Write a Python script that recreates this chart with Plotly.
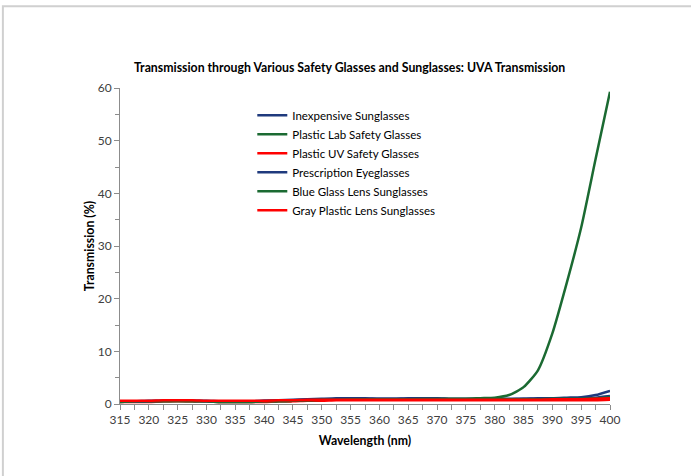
import plotly.graph_objects as go

wavelength = [315, 317.5, 320, 322.5, 325, 327.5, 330, 332.5, 335, 337.5,
              340, 342.5, 345, 347.5, 350, 352.5, 355, 357.5, 360, 362.5,
              365, 367.5, 370, 372.5, 375, 377.5, 380, 382.5, 385, 387.5,
              390, 392.5, 395, 397.5, 400]

inexpensive = [0.5, 0.5, 0.6, 0.6, 0.7, 0.6, 0.6, 0.5, 0.5, 0.5,
               0.6, 0.7, 0.8, 0.9, 1.0, 1.1, 1.1, 1.1, 1.0, 1.0,
               1.1, 1.1, 1.1, 1.0, 1.0, 1.0, 1.0, 1.0, 1.0, 1.1,
               1.1, 1.2, 1.3, 1.7, 2.5]
plastic_lab = [0.4, 0.5, 0.5, 0.5, 0.6, 0.5, 0.5, 0.4, 0.4, 0.4,
               0.5, 0.5, 0.6, 0.7, 0.8, 0.9, 0.9, 0.9, 0.9, 0.9,
               0.9, 1.0, 1.0, 1.0, 1.0, 1.1, 1.2, 1.7, 3.2, 6.4,
               13.4, 23.0, 33.5, 46.5, 59.3]
plastic_uv = [0.4, 0.4, 0.4, 0.5, 0.5, 0.5, 0.5, 0.4, 0.4, 0.4,
              0.4, 0.5, 0.5, 0.6, 0.6, 0.7, 0.7, 0.7, 0.7, 0.7,
              0.7, 0.7, 0.7, 0.7, 0.7, 0.7, 0.7, 0.7, 0.7, 0.7,
              0.7, 0.7, 0.7, 0.7, 0.8]
prescription = [0.5, 0.5, 0.5, 0.6, 0.6, 0.6, 0.5, 0.5, 0.5, 0.5,
                0.6, 0.6, 0.7, 0.8, 0.9, 0.9, 1.0, 1.0, 1.0, 1.0,
                1.0, 1.0, 1.0, 0.9, 0.9, 0.9, 0.9, 0.9, 1.0, 1.0,
                1.0, 1.0, 1.1, 1.2, 1.5]
blue_glass = [0.4, 0.5, 0.5, 0.5, 0.5, 0.5, 0.5, 0.4, 0.4, 0.4,
              0.5, 0.5, 0.6, 0.7, 0.8, 0.8, 0.9, 0.9, 0.9, 0.9,
              0.9, 0.9, 0.9, 0.9, 0.9, 0.9, 0.9, 0.9, 0.9, 0.9,
              1.0, 1.0, 1.0, 1.1, 1.3]
gray_plastic = [0.6, 0.6, 0.6, 0.7, 0.7, 0.7, 0.6, 0.6, 0.6, 0.6,
                0.6, 0.7, 0.7, 0.8, 0.8, 0.8, 0.8, 0.8, 0.8, 0.8,
                0.8, 0.8, 0.8, 0.8, 0.8, 0.8, 0.8, 0.8, 0.8, 0.8,
                0.9, 0.9, 0.9, 1.0, 1.1]

series_names = ["Inexpensive Sunglasses", "Plastic Lab Safety Glasses",
                "Plastic UV Safety Glasses", "Prescription Eyeglasses",
                "Blue Glass Lens Sunglasses", "Gray Plastic Lens Sunglasses"]
series_values = [inexpensive, plastic_lab, plastic_uv, prescription,
                 blue_glass, gray_plastic]
series_colors = ["#1F3A7D", "#1B6A32", "#FF0000", "#1F3A7D", "#1B6A32", "#FF0000"]

FONT = "Lato"

fig = go.Figure()
for name, vals, col in zip(series_names, series_values, series_colors):
    fig.add_trace(go.Scatter(
        x=wavelength, y=vals, name=name, mode="lines",
        line=dict(color=col, width=2.5, shape="spline", smoothing=0.6),
    ))

axis_col = "#8C8C8C"
fig.update_layout(
    width=691, height=476,
    margin=dict(l=120, r=81, t=88, b=72),
    paper_bgcolor="white", plot_bgcolor="white",
    font=dict(family=FONT, size=12, color="#404040"),
    title=dict(
        text="<b>Transmission through Various Safety Glasses and Sunglasses: UVA Transmission</b>",
        x=0.506, xanchor="center", y=0.857, yanchor="middle",
        font=dict(family=FONT, size=12.3, color="#000000"),
    ),
    showlegend=True,
    legend=dict(
        x=0.27, y=0.96, xanchor="left", yanchor="top",
        bgcolor="rgba(0,0,0,0)", font=dict(family=FONT, size=11.5, color="#000000"),
        tracegroupgap=0, itemwidth=30,
    ),
    xaxis=dict(
        range=[315, 400], dtick=5, tick0=315,
        showgrid=False, zeroline=False,
        showline=True, linecolor=axis_col, linewidth=1,
        ticks="outside", ticklen=5, tickcolor=axis_col,
        minor=dict(dtick=2.5, ticks="outside", ticklen=5, tickcolor=axis_col, showgrid=False),
        tickfont=dict(family=FONT, size=12, color="#404040"),
        title=dict(text="<b>Wavelength (nm)</b>", font=dict(family=FONT, size=12.3, color="#000000"), standoff=9),
    ),
    yaxis=dict(
        range=[0, 60], dtick=10,
        showgrid=False, zeroline=False,
        showline=True, linecolor=axis_col, linewidth=1,
        ticks="outside", ticklen=5, tickcolor=axis_col,
        minor=dict(dtick=5, ticks="outside", ticklen=4, tickcolor=axis_col, showgrid=False),
        tickfont=dict(family=FONT, size=12, color="#404040"),
        title=dict(text="<b>Transmission (%)</b>", font=dict(family=FONT, size=12.3, color="#000000"), standoff=0),
    ),
    shapes=[dict(
        type="rect", xref="paper", yref="paper",
        x0=-0.239, x1=1.25, y0=-0.35, y1=1.259,
        line=dict(color="#D0D0D0", width=2), fillcolor="rgba(0,0,0,0)", layer="below",
    )],
)

fig.write_html("out.html", config={"displayModeBar": False},
               post_script="document.body.style.margin='0';")
